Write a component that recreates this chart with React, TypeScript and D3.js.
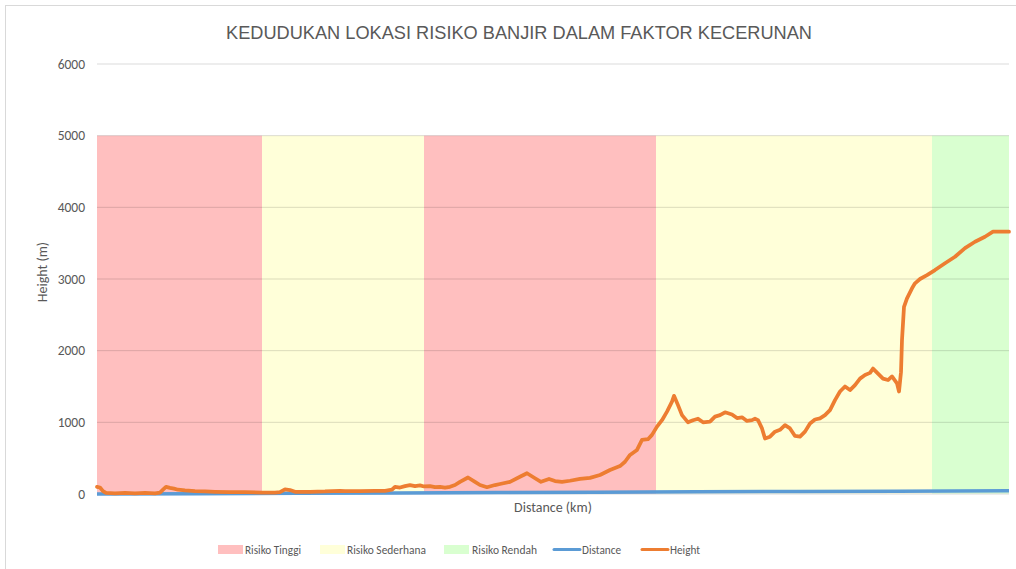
import React from "react";
import * as d3 from "d3";

const title = "KEDUDUKAN LOKASI RISIKO BANJIR DALAM  FAKTOR KECERUNAN";
const yTicks = [0, 1000, 2000, 3000, 4000, 5000, 6000];

// Risk zones along the profile (km from start), height of zone columns = 5000 m
const zoneNames = ["Risiko Tinggi", "Risiko Sederhana", "Risiko Tinggi", "Risiko Sederhana", "Risiko Rendah"];
const zoneStartKm = [0, 8.25, 16.35, 27.95, 41.75];
const zoneEndKm = [8.25, 16.35, 27.95, 41.75, 45.6];
const zoneHeight = [5000, 5000, 5000, 5000, 5000];

const zoneColors: Record<string, string> = {
  "Risiko Tinggi": "#FFBFBF",
  "Risiko Sederhana": "#FFFFD9",
  "Risiko Rendah": "#D9FFD0",
};

// Distance series (km), plotted on the same value axis
const distanceKm = [0, 5, 10, 15, 20, 25, 30, 35, 40, 45.6];
const distanceVal = [0, 5, 10, 15, 20, 25, 30, 35, 40, 45.6];

// Height profile
const profileKm = [
  0, 0.15, 0.3, 0.45, 0.9, 1.4, 1.9, 2.4, 2.9, 3.15, 3.3, 3.45, 3.65, 3.85, 4.05, 4.4, 4.9, 5.4, 5.9, 6.65, 7.4,
  8.25, 8.9, 9.15, 9.4, 9.65, 9.9, 10.65, 11.4, 12.15, 12.4, 13.15, 13.9, 14.4, 14.75, 14.9, 15.15, 15.4, 15.65,
  15.9, 16.15, 16.35, 16.65, 16.9, 17.15, 17.4, 17.65, 17.9, 18.15, 18.55, 18.9, 19.15, 19.5, 19.9, 20.15, 20.65,
  21.15, 21.5, 21.9, 22.2, 22.6, 22.9, 23.25, 23.65, 24.15, 24.65, 25.15, 25.65, 26.15, 26.4, 26.65, 27.0, 27.25,
  27.55, 27.75, 28.0, 28.25, 28.5, 28.75, 28.85, 29.05, 29.25, 29.55, 29.8, 30.05, 30.3, 30.65, 30.9, 31.15, 31.4,
  31.75, 32.0, 32.25, 32.5, 32.75, 32.9, 33.05, 33.25, 33.4, 33.65, 33.9, 34.15, 34.4, 34.65, 34.9, 35.15, 35.4,
  35.65, 35.9, 36.15, 36.4, 36.65, 36.9, 37.15, 37.4, 37.65, 37.9, 38.15, 38.4, 38.65, 38.8, 39.05, 39.3, 39.55,
  39.75, 40.0, 40.1, 40.2, 40.25, 40.35, 40.5, 40.75, 40.9, 41.15, 41.5, 41.9, 42.4, 42.9, 43.4, 43.9, 44.4, 44.8,
  45.6,
];
const heightM = [
  100, 90, 40, 15, 10, 15, 10, 15, 10, 20, 60, 100, 85, 75, 60, 50, 40, 35, 30, 25, 25,
  20, 20, 25, 65, 55, 30, 30, 35, 45, 40, 40, 45, 45, 60, 100, 90, 110, 125,
  110, 120, 105, 110, 95, 100, 90, 100, 125, 170, 230, 170, 125, 95, 125, 140, 170,
  240, 290, 220, 170, 210, 180, 170, 185, 210, 225, 265, 335, 390, 450, 545, 615, 755,
  765, 825, 940, 1030, 1150, 1290, 1370, 1240, 1100, 1000, 1030, 1050, 1000, 1010, 1080, 1100, 1140,
  1110, 1060, 1070, 1020, 1030, 1050, 1030, 915, 775, 800, 870, 895, 960, 915, 810, 800, 870,
  985, 1040, 1055, 1100, 1170, 1310, 1430, 1500, 1450, 1520, 1610, 1660, 1690, 1750, 1680, 1610, 1590,
  1640, 1545, 1430, 1700, 2150, 2610, 2730, 2870, 2940, 3000, 3055, 3125, 3220, 3310, 3430, 3520, 3590, 3660,
  3660,
];

const W = 1016;
const H = 569;
const M = { left: 97, right: 7, top: 64, bottom: 75 };
const FONT = "Carlito, 'Liberation Sans', Arial, sans-serif";
const TITLE_FONT = "'Liberation Sans', Arial, sans-serif";
const GREY = "#595959";

export default function App() {
  const x = d3.scaleLinear().domain([0, 45.6]).range([M.left, W - M.right]);
  const y = d3.scaleLinear().domain([0, 6000]).range([H - M.bottom, M.top]);

  const heightLine = d3
    .line<number>()
    .x((_, i) => x(profileKm[i]))
    .y((d) => y(d))(heightM) as string;
  const distLine = d3
    .line<number>()
    .x((_, i) => x(distanceKm[i]))
    .y((d) => y(d))(distanceVal) as string;

  const legendItems = [
    { label: "Risiko Tinggi", type: "rect", color: zoneColors["Risiko Tinggi"], x: 218, tx: 245, w: 56 },
    { label: "Risiko Sederhana", type: "rect", color: zoneColors["Risiko Sederhana"], x: 320, tx: 347, w: 79 },
    { label: "Risiko Rendah", type: "rect", color: zoneColors["Risiko Rendah"], x: 444, tx: 472, w: 65 },
    { label: "Distance", type: "line", color: "#5B9BD5", x: 554, tx: 582, w: 39 },
    { label: "Height", type: "line", color: "#ED7D31", x: 642, tx: 670, w: 30 },
  ];

  return (
    <svg
      width={W}
      height={H}
      style={{ position: "absolute", left: 0, top: 0, background: "#fff" }}
      fontFamily={FONT}
    >
      <rect x={5.5} y={5.5} width={W - 5} height={H - 5} fill="#fff" stroke="#d9d9d9" />
      <text
        x={519}
        y={39}
        textAnchor="middle"
        fontSize={18.5}
        fill={GREY}
        fontFamily={TITLE_FONT}
        textLength={586}
        lengthAdjust="spacingAndGlyphs"
      >
        {title}
      </text>

      {zoneNames.map((z, i) => (
        <rect
          key={i}
          x={x(zoneStartKm[i])}
          width={x(zoneEndKm[i]) - x(zoneStartKm[i])}
          y={y(zoneHeight[i])}
          height={y(0) - y(zoneHeight[i])}
          fill={zoneColors[z]}
        />
      ))}

      {yTicks.map((t) => (
        <g key={t}>
          {t > 0 && (
            <line x1={M.left} x2={W - M.right} y1={y(t)} y2={y(t)} stroke="#000" strokeOpacity={0.14} strokeWidth={1} />
          )}
          <text x={85} y={y(t)} dy="0.35em" textAnchor="end" fontSize={13.5} fill={GREY}>
            {t}
          </text>
        </g>
      ))}
      <line x1={M.left} x2={W - M.right} y1={y(0)} y2={y(0)} stroke="#d9d9d9" />

      <path d={distLine} fill="none" stroke="#5B9BD5" strokeWidth={3.5} strokeLinejoin="round" />
      <path d={heightLine} fill="none" stroke="#ED7D31" strokeWidth={3.75} strokeLinejoin="round" strokeLinecap="round" />

      <text x={42} y={272} transform="rotate(-90 42 272)" textAnchor="middle" dy="0.35em" fontSize={14} fill={GREY}>
        Height (m)
      </text>
      <text x={553} y={507} textAnchor="middle" dy="0.35em" fontSize={14} fill={GREY}>
        Distance (km)
      </text>

      {legendItems.map((it) => (
        <g key={it.label}>
          {it.type === "rect" ? (
            <rect x={it.x} y={545} width={25} height={9} fill={it.color} />
          ) : (
            <line x1={it.x} x2={it.x + 26} y1={549.5} y2={549.5} stroke={it.color} strokeWidth={3} strokeLinecap="round" />
          )}
          <text
            x={it.tx}
            y={549.5}
            dy="0.35em"
            fontSize={13}
            fill={GREY}
            textLength={it.w}
            lengthAdjust="spacingAndGlyphs"
          >
            {it.label}
          </text>
        </g>
      ))}
    </svg>
  );
}
